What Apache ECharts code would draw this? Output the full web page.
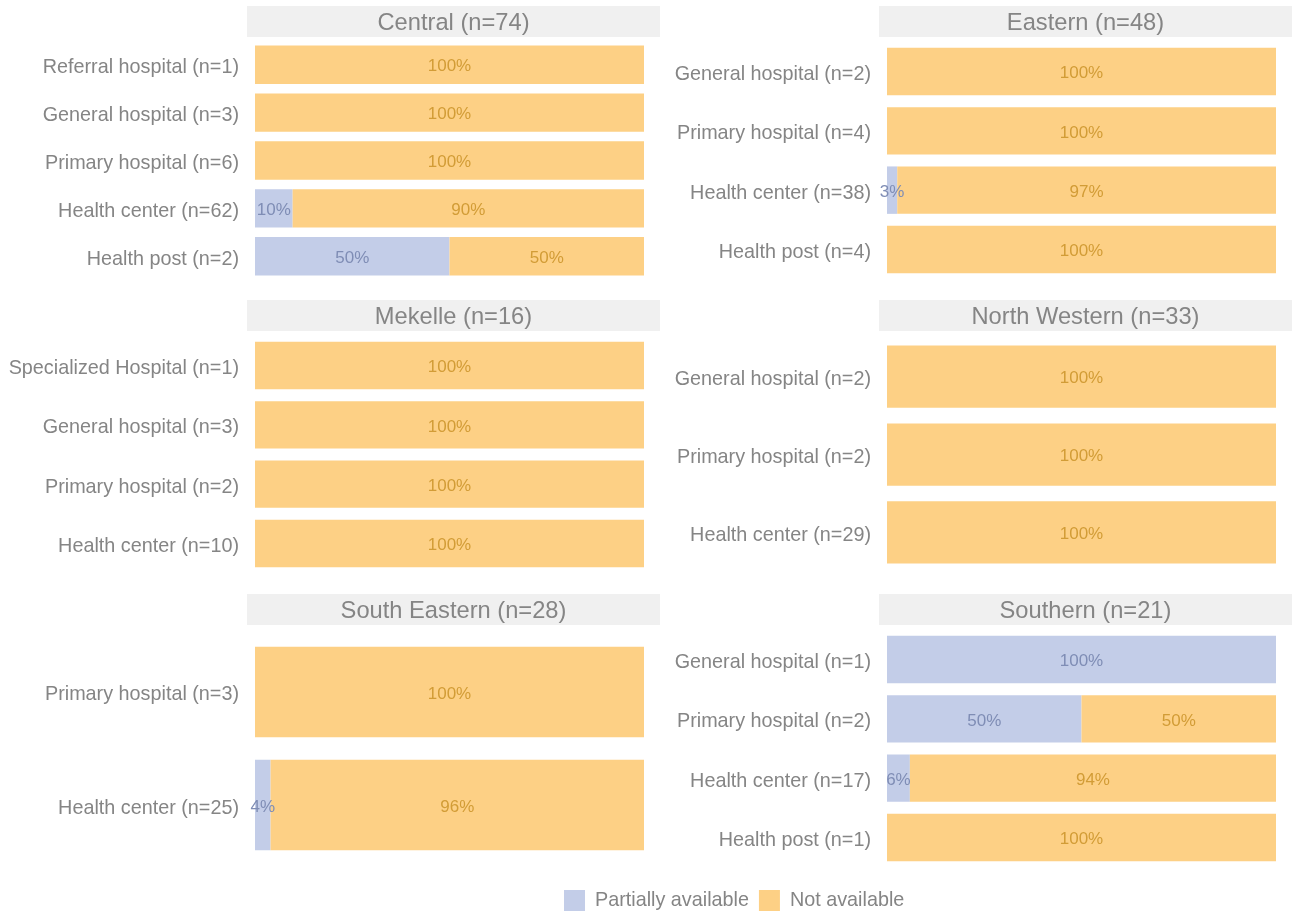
<!DOCTYPE html>
<html>
<head>
<meta charset="utf-8">
<script src="https://cdn.jsdelivr.net/npm/echarts@6/dist/echarts.min.js"></script>
<style>
html,body{margin:0;padding:0;background:#fff;}
#c{width:1293px;height:914px;}
</style>
</head>
<body>
<div id="c"></div>
<script>
// ---- data ----
const regionNames = ['Central', 'Eastern', 'Mekelle', 'North Western', 'South Eastern', 'Southern'];
const regionN = [74, 48, 16, 33, 28, 21];
const centralCats = ['Referral hospital (n=1)', 'General hospital (n=3)', 'Primary hospital (n=6)', 'Health center (n=62)', 'Health post (n=2)'];
const easternCats = ['General hospital (n=2)', 'Primary hospital (n=4)', 'Health center (n=38)', 'Health post (n=4)'];
const mekelleCats = ['Specialized Hospital (n=1)', 'General hospital (n=3)', 'Primary hospital (n=2)', 'Health center (n=10)'];
const northWesternCats = ['General hospital (n=2)', 'Primary hospital (n=2)', 'Health center (n=29)'];
const southEasternCats = ['Primary hospital (n=3)', 'Health center (n=25)'];
const southernCats = ['General hospital (n=1)', 'Primary hospital (n=2)', 'Health center (n=17)', 'Health post (n=1)'];
// facility totals and counts "Partially available" per category
const centralTotals = [1, 3, 6, 62, 2];
const centralPartial = [0, 0, 0, 6, 1];
const easternTotals = [2, 4, 38, 4];
const easternPartial = [0, 0, 1, 0];
const mekelleTotals = [1, 3, 2, 10];
const mekellePartial = [0, 0, 0, 0];
const northWesternTotals = [2, 2, 29];
const northWesternPartial = [0, 0, 0];
const southEasternTotals = [3, 25];
const southEasternPartial = [0, 1];
const southernTotals = [1, 2, 17, 1];
const southernPartial = [1, 1, 1, 0];
const seriesNames = ['Partially available', 'Not available'];

// ---- styling ----
const FONT = 'Liberation Sans, Arial, sans-serif';
const fillColors = ['#c3cde8', '#fdd085'];
const labelColors = ['#7f8db5', '#d29c36'];
const textGrey = '#858585';

const facets = [
  {cats: centralCats, tot: centralTotals, part: centralPartial},
  {cats: easternCats, tot: easternTotals, part: easternPartial},
  {cats: mekelleCats, tot: mekelleTotals, part: mekellePartial},
  {cats: northWesternCats, tot: northWesternTotals, part: northWesternPartial},
  {cats: southEasternCats, tot: southEasternTotals, part: southEasternPartial},
  {cats: southernCats, tot: southernTotals, part: southernPartial}
];

const colLeft = [255, 887];
const plotW = 389;
const stripX = [247, 879];
const stripW = 413;
const rowStripTop = [6, 300, 594];
const stripH = 31;
const panelH = 249;

const grids = [], xAxes = [], yAxes = [], series = [], graphics = [];
facets.forEach((f, i) => {
  const col = i % 2, row = Math.floor(i / 2);
  const n = f.cats.length;
  const panelTop = rowStripTop[row] + stripH - 1;
  const unit = panelH / (n + 0.2);
  grids.push({left: colLeft[col], width: plotW, top: panelTop + 0.1 * unit, height: n * unit, containLabel: false});
  xAxes.push({gridIndex: i, type: 'value', min: 0, max: 1, show: false});
  yAxes.push({gridIndex: i, type: 'category', data: f.cats, inverse: true,
    axisLine: {show: false}, axisTick: {show: false}, splitLine: {show: false},
    axisLabel: {margin: 16, formatter: v => '{a|' + v + '}',
      rich: {a: {color: textGrey, fontSize: 19.8, fontFamily: FONT, padding: [6, 0, 0, 0]}}}});
  const partShare = f.part.map((p, k) => p / f.tot[k]);
  const notShare = f.part.map((p, k) => (f.tot[k] - p) / f.tot[k]);
  [partShare, notShare].forEach((vals, s) => {
    series.push({
      name: seriesNames[s], type: 'bar', stack: 'st' + i,
      xAxisIndex: i, yAxisIndex: i, data: vals,
      barCategoryGap: '20%', color: fillColors[s],
      itemStyle: {color: fillColors[s]},
      label: {show: true, position: 'inside', color: labelColors[s], fontSize: 17, fontFamily: FONT, offset: [0, 2],
        formatter: p => p.value > 0 ? Math.round(p.value * 100) + '%' : ''},
      emphasis: {disabled: true}, animation: false
    });
  });
  graphics.push({type: 'rect', left: stripX[col], top: rowStripTop[row], shape: {width: stripW, height: stripH},
    style: {fill: '#f0f0f0'}, silent: true, z: 0});
  graphics.push({type: 'text', x: stripX[col] + stripW / 2, y: rowStripTop[row] + stripH / 2 + 2,
    style: {text: regionNames[i] + ' (n=' + regionN[i] + ')', fill: textGrey, fontSize: 23.7, fontFamily: FONT,
      textAlign: 'center', textVerticalAlign: 'middle'}, silent: true, z: 1});
});

const chart = echarts.init(document.getElementById('c'), null, {renderer: 'canvas'});
chart.setOption({
  backgroundColor: '#ffffff',
  animation: false,
  grid: grids, xAxis: xAxes, yAxis: yAxes, series: series,
  graphic: graphics,
  legend: {
    data: seriesNames, left: 559, top: 885, icon: 'rect', itemWidth: 21, itemHeight: 21, itemGap: 10,
    textStyle: {color: textGrey, fontSize: 19.8, fontFamily: FONT, padding: [0, 0, 0, 5]},
    selectedMode: false
  }
});
</script>
</body>
</html>
